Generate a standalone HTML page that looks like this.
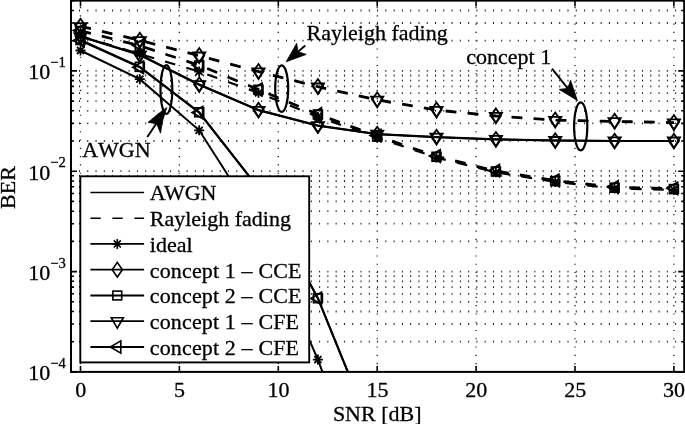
<!DOCTYPE html>
<html><head><meta charset="utf-8"><title>BER vs SNR</title>
<style>
html,body{margin:0;padding:0;background:#fff;}
body{width:685px;height:424px;overflow:hidden;}
svg text{font-family:"Liberation Serif","Times New Roman",serif;font-size:22px;fill:#000;stroke:#000;stroke-width:0.3px;}
</style></head><body>
<svg width="685" height="424" viewBox="0 0 685 424" style="display:block">
<rect width="685" height="424" fill="#fff"/>
<g stroke="#000" fill="none" opacity="0.9">
<line x1="70.70" y1="341.7" x2="684.2" y2="341.7" stroke-width="1.8" stroke-dasharray="1.0 7.28"/>
<line x1="70.70" y1="324.0" x2="684.2" y2="324.0" stroke-width="1.8" stroke-dasharray="1.0 7.28"/>
<line x1="70.70" y1="311.5" x2="684.2" y2="311.5" stroke-width="1.8" stroke-dasharray="1.0 7.28"/>
<line x1="70.70" y1="301.8" x2="684.2" y2="301.8" stroke-width="1.8" stroke-dasharray="1.0 7.28"/>
<line x1="70.70" y1="293.8" x2="684.2" y2="293.8" stroke-width="1.8" stroke-dasharray="1.0 7.28"/>
<line x1="70.70" y1="287.1" x2="684.2" y2="287.1" stroke-width="1.8" stroke-dasharray="1.0 7.28"/>
<line x1="70.70" y1="281.3" x2="684.2" y2="281.3" stroke-width="1.8" stroke-dasharray="1.0 7.28"/>
<line x1="70.70" y1="276.2" x2="684.2" y2="276.2" stroke-width="1.8" stroke-dasharray="1.0 7.28"/>
<line x1="70.70" y1="271.6" x2="684.2" y2="271.6" stroke-width="1.8" stroke-dasharray="1.0 7.28"/>
<line x1="70.70" y1="241.4" x2="684.2" y2="241.4" stroke-width="1.8" stroke-dasharray="1.0 7.28"/>
<line x1="70.70" y1="223.7" x2="684.2" y2="223.7" stroke-width="1.8" stroke-dasharray="1.0 7.28"/>
<line x1="70.70" y1="211.2" x2="684.2" y2="211.2" stroke-width="1.8" stroke-dasharray="1.0 7.28"/>
<line x1="70.70" y1="201.4" x2="684.2" y2="201.4" stroke-width="1.8" stroke-dasharray="1.0 7.28"/>
<line x1="70.70" y1="193.5" x2="684.2" y2="193.5" stroke-width="1.8" stroke-dasharray="1.0 7.28"/>
<line x1="70.70" y1="186.8" x2="684.2" y2="186.8" stroke-width="1.8" stroke-dasharray="1.0 7.28"/>
<line x1="70.70" y1="181.0" x2="684.2" y2="181.0" stroke-width="1.8" stroke-dasharray="1.0 7.28"/>
<line x1="70.70" y1="175.8" x2="684.2" y2="175.8" stroke-width="1.8" stroke-dasharray="1.0 7.28"/>
<line x1="70.70" y1="171.2" x2="684.2" y2="171.2" stroke-width="1.8" stroke-dasharray="1.0 7.28"/>
<line x1="70.70" y1="141.0" x2="684.2" y2="141.0" stroke-width="1.8" stroke-dasharray="1.0 7.28"/>
<line x1="70.70" y1="123.4" x2="684.2" y2="123.4" stroke-width="1.8" stroke-dasharray="1.0 7.28"/>
<line x1="70.70" y1="110.8" x2="684.2" y2="110.8" stroke-width="1.8" stroke-dasharray="1.0 7.28"/>
<line x1="70.70" y1="101.1" x2="684.2" y2="101.1" stroke-width="1.8" stroke-dasharray="1.0 7.28"/>
<line x1="70.70" y1="93.2" x2="684.2" y2="93.2" stroke-width="1.8" stroke-dasharray="1.0 7.28"/>
<line x1="70.70" y1="86.4" x2="684.2" y2="86.4" stroke-width="1.8" stroke-dasharray="1.0 7.28"/>
<line x1="70.70" y1="80.6" x2="684.2" y2="80.6" stroke-width="1.8" stroke-dasharray="1.0 7.28"/>
<line x1="70.70" y1="75.5" x2="684.2" y2="75.5" stroke-width="1.8" stroke-dasharray="1.0 7.28"/>
<line x1="70.70" y1="70.9" x2="684.2" y2="70.9" stroke-width="1.8" stroke-dasharray="1.0 7.28"/>
<line x1="70.70" y1="40.7" x2="684.2" y2="40.7" stroke-width="1.8" stroke-dasharray="1.0 7.28"/>
<line x1="70.70" y1="23.0" x2="684.2" y2="23.0" stroke-width="1.8" stroke-dasharray="1.0 7.28"/>
<line x1="70.70" y1="10.5" x2="684.2" y2="10.5" stroke-width="1.8" stroke-dasharray="1.0 7.28"/>
<line x1="80.5" y1="372.45" x2="80.5" y2="0.6" stroke-width="1.3" stroke-dasharray="1.1 7.18"/>
<line x1="179.4" y1="372.45" x2="179.4" y2="0.6" stroke-width="1.3" stroke-dasharray="1.1 7.18"/>
<line x1="278.3" y1="372.45" x2="278.3" y2="0.6" stroke-width="1.3" stroke-dasharray="1.1 7.18"/>
<line x1="377.2" y1="372.45" x2="377.2" y2="0.6" stroke-width="1.3" stroke-dasharray="1.1 7.18"/>
<line x1="476.1" y1="372.45" x2="476.1" y2="0.6" stroke-width="1.3" stroke-dasharray="1.1 7.18"/>
<line x1="575.0" y1="372.45" x2="575.0" y2="0.6" stroke-width="1.3" stroke-dasharray="1.1 7.18"/>
<line x1="673.9" y1="372.45" x2="673.9" y2="0.6" stroke-width="1.3" stroke-dasharray="1.1 7.18"/>
</g>
<clipPath id="c"><rect x="71.0" y="0.6" width="613.2" height="371.3"/></clipPath>
<g clip-path="url(#c)">
<polyline points="80.5,36.3 139.8,54.6 199.2,84.5 258.5,110.0 317.9,125.5 377.2,134.0 436.5,137.0 495.9,139.3 555.2,140.5 614.6,141.0 673.9,141.0" fill="none" stroke="#000" stroke-width="2.00"/>
<polyline points="80.5,36.6 139.8,55.0 199.2,84.8 258.5,110.3 317.9,125.7 377.2,134.2 436.5,137.2 495.9,139.5 555.2,140.6 614.6,141.0 673.9,141.1" fill="none" stroke="#000" stroke-width="2.00"/>
<polyline points="80.5,40.0 139.8,66.8 199.2,112.3 258.5,188.0 317.9,298.2 377.2,444.0" fill="none" stroke="#000" stroke-width="2.00"/>
<polyline points="80.5,40.5 139.8,67.3 199.2,112.6 258.5,188.3 317.9,298.4 377.2,444.5" fill="none" stroke="#000" stroke-width="2.00"/>
<polyline points="80.5,50.5 139.8,79.2 199.2,130.3 258.5,223.0 317.9,359.6 377.2,520.0" fill="none" stroke="#000" stroke-width="2.00"/>
<polyline points="80.5,26.0 139.8,40.0 199.2,55.4 258.5,71.3 317.9,86.4 377.2,99.6 436.5,109.8 495.9,115.7 555.2,119.8 614.6,121.1 673.9,122.3" fill="none" stroke="#000" stroke-width="2.20" stroke-dasharray="10.6 11.47"/>
<polyline points="80.5,26.6 139.8,40.6 199.2,56.0 258.5,71.9 317.9,87.0 377.2,100.2 436.5,110.4 495.9,116.3 555.2,120.4 614.6,121.7 673.9,122.9" fill="none" stroke="#000" stroke-width="2.20" stroke-dasharray="10.6 11.47"/>
<polyline points="80.5,30.5 139.8,45.5 199.2,65.0 258.5,89.3 317.9,114.0 377.2,135.6 436.5,156.0 495.9,170.7 555.2,180.3 614.6,186.9 673.9,188.3" fill="none" stroke="#000" stroke-width="2.20" stroke-dasharray="10.6 11.47"/>
<polyline points="80.5,36.3 139.8,54.0 199.2,71.6 258.5,92.8 317.9,116.8 377.2,137.6 436.5,157.6 495.9,172.3 555.2,181.9 614.6,188.5 673.9,189.9" fill="none" stroke="#000" stroke-width="2.20" stroke-dasharray="10.6 11.47"/>
<polyline points="80.5,31.0 139.8,46.0 199.2,65.5 258.5,89.8 317.9,114.5 377.2,136.6 436.5,156.8 495.9,171.5 555.2,181.1 614.6,187.7 673.9,189.1" fill="none" stroke="#000" stroke-width="2.20" stroke-dasharray="10.6 11.47"/>
<path d="M80.5 45.5V55.5M75.5 50.5H85.5M77.0 47.0L84.0 54.0M77.0 54.0L84.0 47.0" fill="none" stroke="#000" stroke-width="1.80"/>
<path d="M139.8 74.2V84.2M134.8 79.2H144.8M136.3 75.7L143.4 82.7M136.3 82.7L143.4 75.7" fill="none" stroke="#000" stroke-width="1.80"/>
<path d="M199.2 125.3V135.3M194.2 130.3H204.2M195.6 126.8L202.7 133.8M195.6 133.8L202.7 126.8" fill="none" stroke="#000" stroke-width="1.80"/>
<path d="M258.5 218.0V228.0M253.5 223.0H263.5M255.0 219.5L262.1 226.5M255.0 226.5L262.1 219.5" fill="none" stroke="#000" stroke-width="1.80"/>
<path d="M317.9 354.6V364.6M312.9 359.6H322.9M314.3 356.1L321.4 363.1M314.3 363.1L321.4 356.1" fill="none" stroke="#000" stroke-width="1.80"/>
<path d="M80.5 29.0L85.6 36.3L80.5 43.6L75.4 36.3Z" fill="none" stroke="#000" stroke-width="1.80"/>
<path d="M139.8 47.3L144.9 54.6L139.8 61.9L134.7 54.6Z" fill="none" stroke="#000" stroke-width="1.80"/>
<path d="M199.2 77.2L204.3 84.5L199.2 91.8L194.1 84.5Z" fill="none" stroke="#000" stroke-width="1.80"/>
<path d="M258.5 102.7L263.6 110.0L258.5 117.3L253.4 110.0Z" fill="none" stroke="#000" stroke-width="1.80"/>
<path d="M317.9 118.2L323.0 125.5L317.9 132.8L312.8 125.5Z" fill="none" stroke="#000" stroke-width="1.80"/>
<path d="M377.2 126.7L382.3 134.0L377.2 141.3L372.1 134.0Z" fill="none" stroke="#000" stroke-width="1.80"/>
<path d="M436.5 129.7L441.6 137.0L436.5 144.3L431.4 137.0Z" fill="none" stroke="#000" stroke-width="1.80"/>
<path d="M495.9 132.0L501.0 139.3L495.9 146.6L490.8 139.3Z" fill="none" stroke="#000" stroke-width="1.80"/>
<path d="M555.2 133.2L560.3 140.5L555.2 147.8L550.1 140.5Z" fill="none" stroke="#000" stroke-width="1.80"/>
<path d="M614.6 133.7L619.7 141.0L614.6 148.3L609.5 141.0Z" fill="none" stroke="#000" stroke-width="1.80"/>
<path d="M673.9 133.7L679.0 141.0L673.9 148.3L668.8 141.0Z" fill="none" stroke="#000" stroke-width="1.80"/>
<rect x="76.1" y="35.6" width="8.8" height="8.8" fill="none" stroke="#000" stroke-width="1.80"/>
<rect x="135.4" y="62.4" width="8.8" height="8.8" fill="none" stroke="#000" stroke-width="1.80"/>
<rect x="194.8" y="107.9" width="8.8" height="8.8" fill="none" stroke="#000" stroke-width="1.80"/>
<rect x="254.1" y="183.6" width="8.8" height="8.8" fill="none" stroke="#000" stroke-width="1.80"/>
<rect x="313.5" y="293.8" width="8.8" height="8.8" fill="none" stroke="#000" stroke-width="1.80"/>
<path d="M74.4 33.1L86.6 33.1L80.5 43.6Z" fill="none" stroke="#000" stroke-width="1.80"/>
<path d="M133.7 51.5L145.9 51.5L139.8 62.0Z" fill="none" stroke="#000" stroke-width="1.80"/>
<path d="M193.1 81.2L205.3 81.2L199.2 91.8Z" fill="none" stroke="#000" stroke-width="1.80"/>
<path d="M252.4 106.8L264.6 106.8L258.5 117.3Z" fill="none" stroke="#000" stroke-width="1.80"/>
<path d="M311.8 122.2L324.0 122.2L317.9 132.7Z" fill="none" stroke="#000" stroke-width="1.80"/>
<path d="M371.1 130.6L383.3 130.6L377.2 141.2Z" fill="none" stroke="#000" stroke-width="1.80"/>
<path d="M430.4 133.6L442.6 133.6L436.5 144.2Z" fill="none" stroke="#000" stroke-width="1.80"/>
<path d="M489.8 135.9L502.0 135.9L495.9 146.5Z" fill="none" stroke="#000" stroke-width="1.80"/>
<path d="M549.1 137.0L561.3 137.0L555.2 147.6Z" fill="none" stroke="#000" stroke-width="1.80"/>
<path d="M608.5 137.4L620.7 137.4L614.6 148.0Z" fill="none" stroke="#000" stroke-width="1.80"/>
<path d="M667.8 137.5L680.0 137.5L673.9 148.1Z" fill="none" stroke="#000" stroke-width="1.80"/>
<path d="M84.0 34.4L84.0 46.6L73.5 40.5Z" fill="none" stroke="#000" stroke-width="1.80"/>
<path d="M143.4 61.2L143.4 73.4L132.8 67.3Z" fill="none" stroke="#000" stroke-width="1.80"/>
<path d="M202.7 106.5L202.7 118.7L192.2 112.6Z" fill="none" stroke="#000" stroke-width="1.80"/>
<path d="M262.1 182.2L262.1 194.4L251.5 188.3Z" fill="none" stroke="#000" stroke-width="1.80"/>
<path d="M321.4 292.3L321.4 304.5L310.9 298.4Z" fill="none" stroke="#000" stroke-width="1.80"/>
<path d="M80.5 31.3V41.3M75.5 36.3H85.5M77.0 32.8L84.0 39.8M77.0 39.8L84.0 32.8" fill="none" stroke="#000" stroke-width="1.80"/>
<path d="M139.8 49.0V59.0M134.8 54.0H144.8M136.3 50.5L143.4 57.5M136.3 57.5L143.4 50.5" fill="none" stroke="#000" stroke-width="1.80"/>
<path d="M199.2 66.6V76.6M194.2 71.6H204.2M195.6 68.1L202.7 75.1M195.6 75.1L202.7 68.1" fill="none" stroke="#000" stroke-width="1.80"/>
<path d="M258.5 87.8V97.8M253.5 92.8H263.5M255.0 89.3L262.1 96.3M255.0 96.3L262.1 89.3" fill="none" stroke="#000" stroke-width="1.80"/>
<path d="M317.9 111.8V121.8M312.9 116.8H322.9M314.3 113.3L321.4 120.3M314.3 120.3L321.4 113.3" fill="none" stroke="#000" stroke-width="1.80"/>
<path d="M377.2 132.6V142.6M372.2 137.6H382.2M373.7 134.1L380.7 141.1M373.7 141.1L380.7 134.1" fill="none" stroke="#000" stroke-width="1.80"/>
<path d="M436.5 152.6V162.6M431.5 157.6H441.5M433.0 154.1L440.1 161.1M433.0 161.1L440.1 154.1" fill="none" stroke="#000" stroke-width="1.80"/>
<path d="M495.9 167.3V177.3M490.9 172.3H500.9M492.3 168.8L499.4 175.8M492.3 175.8L499.4 168.8" fill="none" stroke="#000" stroke-width="1.80"/>
<path d="M555.2 176.9V186.9M550.2 181.9H560.2M551.7 178.4L558.8 185.4M551.7 185.4L558.8 178.4" fill="none" stroke="#000" stroke-width="1.80"/>
<path d="M614.6 183.5V193.5M609.6 188.5H619.6M611.0 185.0L618.1 192.0M611.0 192.0L618.1 185.0" fill="none" stroke="#000" stroke-width="1.80"/>
<path d="M673.9 184.9V194.9M668.9 189.9H678.9M670.4 186.4L677.4 193.4M670.4 193.4L677.4 186.4" fill="none" stroke="#000" stroke-width="1.80"/>
<path d="M80.5 18.7L85.6 26.0L80.5 33.3L75.4 26.0Z" fill="none" stroke="#000" stroke-width="1.80"/>
<path d="M139.8 32.7L144.9 40.0L139.8 47.3L134.7 40.0Z" fill="none" stroke="#000" stroke-width="1.80"/>
<path d="M199.2 48.1L204.3 55.4L199.2 62.7L194.1 55.4Z" fill="none" stroke="#000" stroke-width="1.80"/>
<path d="M258.5 64.0L263.6 71.3L258.5 78.6L253.4 71.3Z" fill="none" stroke="#000" stroke-width="1.80"/>
<path d="M317.9 79.1L323.0 86.4L317.9 93.7L312.8 86.4Z" fill="none" stroke="#000" stroke-width="1.80"/>
<path d="M377.2 92.3L382.3 99.6L377.2 106.9L372.1 99.6Z" fill="none" stroke="#000" stroke-width="1.80"/>
<path d="M436.5 102.5L441.6 109.8L436.5 117.1L431.4 109.8Z" fill="none" stroke="#000" stroke-width="1.80"/>
<path d="M495.9 108.4L501.0 115.7L495.9 123.0L490.8 115.7Z" fill="none" stroke="#000" stroke-width="1.80"/>
<path d="M555.2 112.5L560.3 119.8L555.2 127.1L550.1 119.8Z" fill="none" stroke="#000" stroke-width="1.80"/>
<path d="M614.6 113.8L619.7 121.1L614.6 128.4L609.5 121.1Z" fill="none" stroke="#000" stroke-width="1.80"/>
<path d="M673.9 115.0L679.0 122.3L673.9 129.6L668.8 122.3Z" fill="none" stroke="#000" stroke-width="1.80"/>
<rect x="76.1" y="26.6" width="8.8" height="8.8" fill="none" stroke="#000" stroke-width="1.80"/>
<rect x="135.4" y="41.6" width="8.8" height="8.8" fill="none" stroke="#000" stroke-width="1.80"/>
<rect x="194.8" y="61.1" width="8.8" height="8.8" fill="none" stroke="#000" stroke-width="1.80"/>
<rect x="254.1" y="85.4" width="8.8" height="8.8" fill="none" stroke="#000" stroke-width="1.80"/>
<rect x="313.5" y="110.1" width="8.8" height="8.8" fill="none" stroke="#000" stroke-width="1.80"/>
<rect x="372.8" y="132.2" width="8.8" height="8.8" fill="none" stroke="#000" stroke-width="1.80"/>
<rect x="432.1" y="152.4" width="8.8" height="8.8" fill="none" stroke="#000" stroke-width="1.80"/>
<rect x="491.5" y="167.1" width="8.8" height="8.8" fill="none" stroke="#000" stroke-width="1.80"/>
<rect x="550.8" y="176.7" width="8.8" height="8.8" fill="none" stroke="#000" stroke-width="1.80"/>
<rect x="610.2" y="183.3" width="8.8" height="8.8" fill="none" stroke="#000" stroke-width="1.80"/>
<rect x="669.5" y="184.7" width="8.8" height="8.8" fill="none" stroke="#000" stroke-width="1.80"/>
<path d="M74.4 23.1L86.6 23.1L80.5 33.6Z" fill="none" stroke="#000" stroke-width="1.80"/>
<path d="M133.7 37.1L145.9 37.1L139.8 47.6Z" fill="none" stroke="#000" stroke-width="1.80"/>
<path d="M193.1 52.5L205.3 52.5L199.2 63.0Z" fill="none" stroke="#000" stroke-width="1.80"/>
<path d="M252.4 68.4L264.6 68.4L258.5 78.9Z" fill="none" stroke="#000" stroke-width="1.80"/>
<path d="M311.8 83.5L324.0 83.5L317.9 94.0Z" fill="none" stroke="#000" stroke-width="1.80"/>
<path d="M371.1 96.7L383.3 96.7L377.2 107.2Z" fill="none" stroke="#000" stroke-width="1.80"/>
<path d="M430.4 106.9L442.6 106.9L436.5 117.4Z" fill="none" stroke="#000" stroke-width="1.80"/>
<path d="M489.8 112.8L502.0 112.8L495.9 123.3Z" fill="none" stroke="#000" stroke-width="1.80"/>
<path d="M549.1 116.9L561.3 116.9L555.2 127.4Z" fill="none" stroke="#000" stroke-width="1.80"/>
<path d="M608.5 118.2L620.7 118.2L614.6 128.7Z" fill="none" stroke="#000" stroke-width="1.80"/>
<path d="M667.8 119.4L680.0 119.4L673.9 129.9Z" fill="none" stroke="#000" stroke-width="1.80"/>
<path d="M84.0 24.4L84.0 36.6L73.5 30.5Z" fill="none" stroke="#000" stroke-width="1.80"/>
<path d="M143.4 39.4L143.4 51.6L132.8 45.5Z" fill="none" stroke="#000" stroke-width="1.80"/>
<path d="M202.7 58.9L202.7 71.1L192.2 65.0Z" fill="none" stroke="#000" stroke-width="1.80"/>
<path d="M262.1 83.2L262.1 95.4L251.5 89.3Z" fill="none" stroke="#000" stroke-width="1.80"/>
<path d="M321.4 107.9L321.4 120.1L310.9 114.0Z" fill="none" stroke="#000" stroke-width="1.80"/>
<path d="M380.8 129.5L380.8 141.7L370.2 135.6Z" fill="none" stroke="#000" stroke-width="1.80"/>
<path d="M440.1 149.9L440.1 162.1L429.5 156.0Z" fill="none" stroke="#000" stroke-width="1.80"/>
<path d="M499.4 164.6L499.4 176.8L488.9 170.7Z" fill="none" stroke="#000" stroke-width="1.80"/>
<path d="M558.8 174.2L558.8 186.4L548.2 180.3Z" fill="none" stroke="#000" stroke-width="1.80"/>
<path d="M618.1 180.8L618.1 193.0L607.6 186.9Z" fill="none" stroke="#000" stroke-width="1.80"/>
<path d="M677.5 182.2L677.5 194.4L666.9 188.3Z" fill="none" stroke="#000" stroke-width="1.80"/>
</g>
<rect x="71.0" y="0.6" width="613.2" height="371.3" fill="none" stroke="#000" stroke-width="2.0"/>
<path d="M80.5 371.9V365.9M80.5 0.6V6.6M179.4 371.9V365.9M179.4 0.6V6.6M278.3 371.9V365.9M278.3 0.6V6.6M377.2 371.9V365.9M377.2 0.6V6.6M476.1 371.9V365.9M476.1 0.6V6.6M575.0 371.9V365.9M575.0 0.6V6.6M673.9 371.9V365.9M673.9 0.6V6.6M71.0 371.9H77.0M684.2 371.9H678.2M71.0 341.7H74.0M684.2 341.7H681.2M71.0 324.0H74.0M684.2 324.0H681.2M71.0 311.5H74.0M684.2 311.5H681.2M71.0 301.8H74.0M684.2 301.8H681.2M71.0 293.8H74.0M684.2 293.8H681.2M71.0 287.1H74.0M684.2 287.1H681.2M71.0 281.3H74.0M684.2 281.3H681.2M71.0 276.2H74.0M684.2 276.2H681.2M71.0 271.6H77.0M684.2 271.6H678.2M71.0 241.4H74.0M684.2 241.4H681.2M71.0 223.7H74.0M684.2 223.7H681.2M71.0 211.2H74.0M684.2 211.2H681.2M71.0 201.4H74.0M684.2 201.4H681.2M71.0 193.5H74.0M684.2 193.5H681.2M71.0 186.8H74.0M684.2 186.8H681.2M71.0 181.0H74.0M684.2 181.0H681.2M71.0 175.8H74.0M684.2 175.8H681.2M71.0 171.2H77.0M684.2 171.2H678.2M71.0 141.0H74.0M684.2 141.0H681.2M71.0 123.4H74.0M684.2 123.4H681.2M71.0 110.8H74.0M684.2 110.8H681.2M71.0 101.1H74.0M684.2 101.1H681.2M71.0 93.2H74.0M684.2 93.2H681.2M71.0 86.4H74.0M684.2 86.4H681.2M71.0 80.6H74.0M684.2 80.6H681.2M71.0 75.5H74.0M684.2 75.5H681.2M71.0 70.9H77.0M684.2 70.9H678.2M71.0 40.7H74.0M684.2 40.7H681.2M71.0 23.0H74.0M684.2 23.0H681.2M71.0 10.5H74.0M684.2 10.5H681.2M71.0 0.8H74.0M684.2 0.8H681.2" stroke="#000" stroke-width="1.6" fill="none"/>
<ellipse cx="166.4" cy="89.5" rx="5.9" ry="24.4" fill="none" stroke="#000" stroke-width="2.2"/>
<ellipse cx="281.7" cy="88.6" rx="6.5" ry="23.3" fill="none" stroke="#000" stroke-width="2.2"/>
<ellipse cx="580.7" cy="126.4" rx="6.6" ry="24.0" fill="none" stroke="#000" stroke-width="2.2"/>
<line x1="147.3" y1="137.0" x2="157" y2="122.5" stroke="#000" stroke-width="1.9"/>
<path d="M166.8 107.5Q158 113.5 148.0 122.4L156.6 123.6L160.5 133.2Q162.3 119 166.8 107.5Z" fill="#000" stroke="#000" stroke-width="0.8"/>
<line x1="305.3" y1="45.5" x2="298.0" y2="51.7" stroke="#000" stroke-width="1.9"/>
<path d="M286.2 61.8L296.7 43.3L298.0 51.7L306.2 54.4Z" fill="#000" stroke="#000" stroke-width="0.8" stroke-linejoin="miter"/>
<line x1="552.0" y1="68.7" x2="567.7" y2="88.4" stroke="#000" stroke-width="1.9"/>
<path d="M577.4 100.5L559.2 89.4L567.7 88.4L570.6 80.3Z" fill="#000" stroke="#000" stroke-width="0.8" stroke-linejoin="miter"/>
<rect x="80.3" y="176.3" width="228.9" height="186.1" fill="#fff" stroke="#000" stroke-width="1.9"/>
<line x1="90.4" y1="192.4" x2="144.1" y2="192.4" stroke="#000" stroke-width="1.5"/>
<text x="149.8" y="200.3" letter-spacing="0.00">AWGN</text>
<line x1="90.4" y1="218.2" x2="144.1" y2="218.2" stroke="#000" stroke-width="1.5" stroke-dasharray="10.3 11.7"/>
<text x="149.8" y="226.1" letter-spacing="0.00">Rayleigh fading</text>
<line x1="90.4" y1="243.9" x2="144.1" y2="243.9" stroke="#000" stroke-width="1.8"/>
<path d="M117.3 238.9V248.9M112.3 243.9H122.3M113.8 240.4L120.8 247.5M113.8 247.5L120.8 240.4" fill="none" stroke="#000" stroke-width="1.60"/>
<text x="149.8" y="251.8" letter-spacing="0.00">ideal</text>
<line x1="90.4" y1="269.7" x2="144.1" y2="269.7" stroke="#000" stroke-width="1.8"/>
<path d="M117.3 262.4L122.4 269.7L117.3 277.0L112.2 269.7Z" fill="none" stroke="#000" stroke-width="1.60"/>
<text x="149.8" y="277.6" letter-spacing="0.14">concept 1 – CCE</text>
<line x1="90.4" y1="295.5" x2="144.1" y2="295.5" stroke="#000" stroke-width="1.8"/>
<rect x="112.9" y="291.1" width="8.8" height="8.8" fill="none" stroke="#000" stroke-width="1.60"/>
<text x="149.8" y="303.4" letter-spacing="0.14">concept 2 – CCE</text>
<line x1="90.4" y1="321.2" x2="144.1" y2="321.2" stroke="#000" stroke-width="1.8"/>
<path d="M111.2 317.7L123.4 317.7L117.3 328.2Z" fill="none" stroke="#000" stroke-width="1.60"/>
<text x="149.8" y="329.1" letter-spacing="0.14">concept 1 – CFE</text>
<line x1="90.4" y1="347.0" x2="144.1" y2="347.0" stroke="#000" stroke-width="1.8"/>
<path d="M120.8 340.9L120.8 353.1L110.3 347.0Z" fill="none" stroke="#000" stroke-width="1.60"/>
<text x="149.8" y="354.9" letter-spacing="0.14">concept 2 – CFE</text>
<text x="82.2" y="156.9" style="font-kerning:none" font-size="21.4px">AWGN</text>
<text x="306.5" y="40.4">Rayleigh fading</text>
<text x="466.3" y="63.9">concept 1</text>
<text x="80.7" y="396.8" text-anchor="middle">0</text>
<text x="179.6" y="396.8" text-anchor="middle">5</text>
<text x="278.5" y="396.8" text-anchor="middle">10</text>
<text x="377.4" y="396.8" text-anchor="middle">15</text>
<text x="476.3" y="396.8" text-anchor="middle">20</text>
<text x="575.2" y="396.8" text-anchor="middle">25</text>
<text x="674.1" y="396.8" text-anchor="middle">30</text>
<text x="28.2" y="380.2">10<tspan dy="-12.2" font-size="14.6px">−4</tspan></text>
<text x="28.2" y="279.9">10<tspan dy="-12.2" font-size="14.6px">−3</tspan></text>
<text x="28.2" y="179.5">10<tspan dy="-12.2" font-size="14.6px">−2</tspan></text>
<text x="28.2" y="79.2">10<tspan dy="-12.2" font-size="14.6px">−1</tspan></text>
<text x="377.2" y="420.9" text-anchor="middle">SNR [dB]</text>
<text transform="translate(14.7,187.5) rotate(-90)" text-anchor="middle">BER</text>
</svg>
</body></html>
